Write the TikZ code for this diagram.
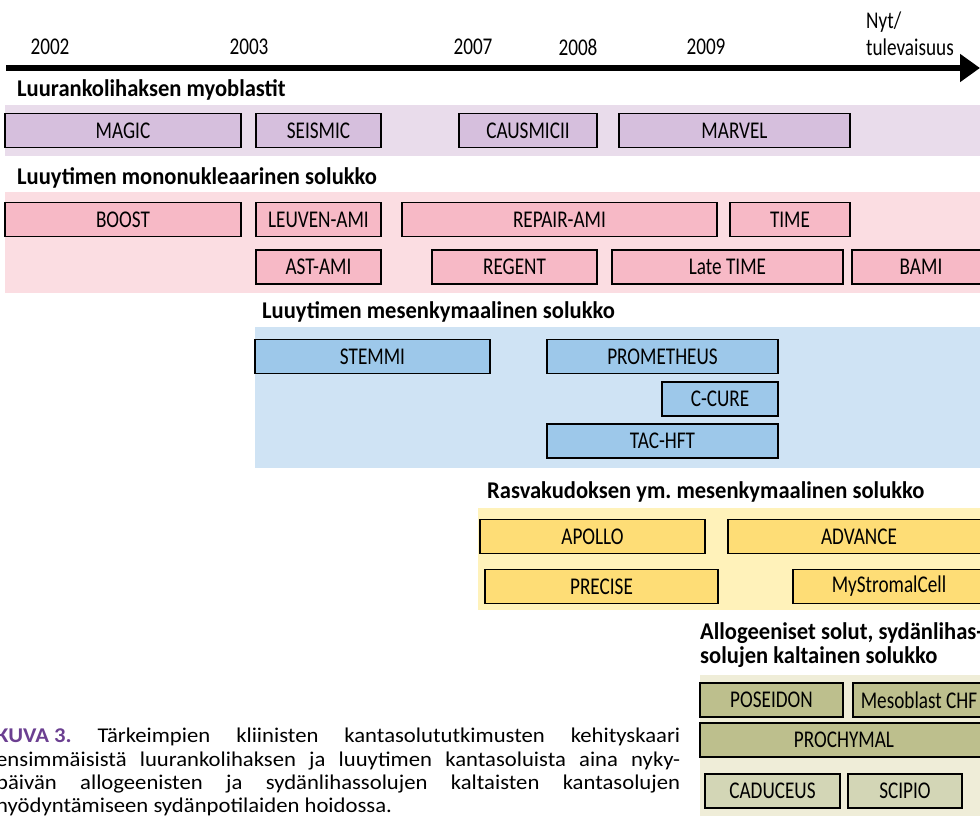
\documentclass[tikz,border=0pt]{standalone}
\usepackage{fontspec}
\setmainfont[FakeStretch=0.8]{Carlito}
\newfontfamily\titlefont[FakeStretch=0.94]{Carlito}
\newfontfamily\capfont[FakeStretch=1.08]{Carlito}
\usetikzlibrary{arrows.meta}
\definecolor{myoband}{HTML}{E9DCEB}
\definecolor{myobox}{HTML}{D6BFDD}
\definecolor{monoband}{HTML}{FBDDE2}
\definecolor{monobox}{HTML}{F7B9C6}
\definecolor{mesband}{HTML}{CFE3F4}
\definecolor{mesbox}{HTML}{9DC8EA}
\definecolor{rasvaband}{HTML}{FFF2BA}
\definecolor{rasvabox}{HTML}{FEDD76}
\definecolor{alloband}{HTML}{EFEDD8}
\definecolor{allobox}{HTML}{BDBF8D}
\definecolor{allolight}{HTML}{D3D6B6}
\definecolor{kuvacol}{HTML}{6B3F91}

\begin{document}
\frenchspacing
\begin{tikzpicture}[x=1pt,y=-1pt,
    trial/.style={draw=black, line width=1.8pt, minimum height=34pt, inner sep=0pt,
      font=\fontsize{24}{26}\selectfont},
    grouptitle/.style={anchor=west, inner sep=0pt, align=left,
      font=\titlefont\fontsize{24}{24}\selectfont\bfseries},
    year/.style={inner sep=0pt, font=\fontsize{24}{27}\selectfont}]
    \clip (0,0) rectangle (980,816);

    % Aikajana
    \coordinate (t0) at (6,68);
    \coordinate (t1) at (980,68);
    \draw[line width=5.5pt, -{Triangle[length=20pt,width=27pt]}] (t0) -- (t1);
    \node[year] (y2002) at (50,47) {2002};
    \node[year] (y2003) at (249,47) {2003};
    \node[year] (y2007) at (473,47) {2007};
    \node[year] (y2008) at (578,47) {2008};
    \node[year] (y2009) at (706,47) {2009};
    \node[year, anchor=west, align=left] (nyt) at (866,33.5) {Nyt/\\tulevaisuus};

    % Luurankolihaksen myoblastit
    \node[grouptitle] (t-myo) at (17,90) {Luurankolihaksen myoblastit};
    \fill[myoband] (5,105) rectangle (980,156);
    \node[trial, fill=myobox, minimum width=236pt] (magic) at (123,130.5) {MAGIC};
    \node[trial, fill=myobox, minimum width=125pt] (seismic) at (318.5,130.5) {SEISMIC};
    \node[trial, fill=myobox, minimum width=138pt] (causmicii) at (528,130.5) {CAUSMICII};
    \node[trial, fill=myobox, minimum width=231pt] (marvel) at (734.5,130.5) {MARVEL};

    % Luuytimen mononukleaarinen solukko
    \node[grouptitle] (t-mono) at (17,178) {Luuytimen mononukleaarinen solukko};
    \fill[monoband] (5,192) rectangle (980,293);
    \node[trial, fill=monobox, minimum width=236pt] (boost) at (123,219.5) {BOOST};
    \node[trial, fill=monobox, minimum width=125pt] (leuven) at (318.5,219.5) {LEUVEN-AMI};
    \node[trial, fill=monobox, minimum width=315pt] (repair) at (559.5,219.5) {REPAIR-AMI};
    \node[trial, fill=monobox, minimum width=120pt] (time) at (790,219.5) {TIME};
    \node[trial, fill=monobox, minimum width=125pt] (astami) at (318.5,267) {AST-AMI};
    \node[trial, fill=monobox, minimum width=165pt] (regent) at (514.5,267) {REGENT};
    \node[trial, fill=monobox, minimum width=231pt] (latetime) at (727.5,267) {Late TIME};
    \node[trial, fill=monobox, minimum width=138pt] (bami) at (921,267) {BAMI};

    % Luuytimen mesenkymaalinen solukko
    \node[grouptitle] (t-mes) at (262,312) {Luuytimen mesenkymaalinen solukko};
    \fill[mesband] (255,327) rectangle (980,468);
    \node[trial, fill=mesbox, minimum width=235pt] (stemmi) at (372.5,356.5) {STEMMI};
    \node[trial, fill=mesbox, minimum width=231pt] (prometheus) at (662.5,356.5) {PROMETHEUS};
    \node[trial, fill=mesbox, minimum width=116pt] (ccure) at (720,399) {C-CURE};
    \node[trial, fill=mesbox, minimum width=231pt] (tachft) at (662.5,441) {TAC-HFT};

    % Rasvakudoksen solukko
    \node[grouptitle] (t-rasva) at (487,492) {Rasvakudoksen ym. mesenkymaalinen solukko};
    \fill[rasvaband] (478,508) rectangle (980,610);
    \node[trial, fill=rasvabox, minimum width=225pt] (apollo) at (592.5,536.5) {APOLLO};
    \node[trial, fill=rasvabox, minimum width=262pt] (advance) at (859,536.5) {ADVANCE};
    \node[trial, fill=rasvabox, minimum width=233pt] (precise) at (601.5,586.5) {PRECISE};
    \node[trial, fill=rasvabox, minimum width=192pt] (mystromal) at (889,586.5) {MyStromalCell};

    % Allogeeniset solut
    \node[grouptitle] (t-allo) at (700,645) {Allogeeniset solut, sydänlihas-\\solujen kaltainen solukko};
    \fill[alloband] (700,675) rectangle (980,816);
    \node[trial, fill=allobox, minimum width=143pt] (poseidon) at (771.5,700) {POSEIDON};
    \node[trial, fill=allobox, minimum width=132pt] (mesoblast) at (919,700) {Mesoblast CHF};
    \node[trial, fill=allobox, minimum width=288pt] (prochymal) at (844,740) {PROCHYMAL};
    \node[trial, fill=allolight, minimum width=135pt] (caduceus) at (772.5,791) {CADUCEUS};
    \node[trial, fill=allolight, minimum width=114pt] (scipio) at (905,791) {SCIPIO};

    % Kuvateksti
    \node[anchor=north west, text width=684pt, align=justify, inner sep=0pt,
      font=\capfont\fontsize{21}{23.4}\selectfont] (kuva) at (-4,728)
      {\textcolor{kuvacol}{\textbf{\mbox{KUVA 3.}}} Tärkeimpien kliinisten kantasolututkimusten kehityskaari\linebreak
       ensimmäisistä luurankolihaksen ja luuytimen kantasoluista aina nyky-\linebreak
       päivän allogeenisten ja sydänlihassolujen kaltaisten kantasolujen\linebreak
       hyödyntämiseen sydänpotilaiden hoidossa.};
\end{tikzpicture}
\end{document}
